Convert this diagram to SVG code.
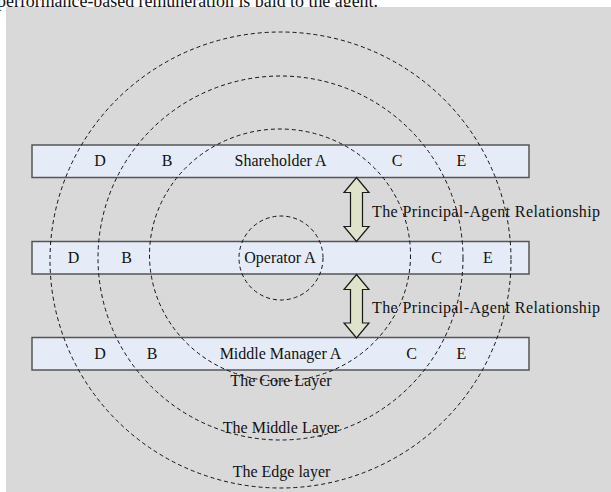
<svg xmlns="http://www.w3.org/2000/svg" width="611" height="492" viewBox="0 0 611 492">
  <style>
    .bar { fill: #e6ecf7; stroke: #555555; stroke-width: 1.5; }
    .layer { fill: none; stroke: #111111; stroke-width: 1; stroke-dasharray: 4 3; }
    .lbl { font-family: "Liberation Serif", "Times New Roman", serif; font-size: 16px; fill: #111111; }
    .mid { text-anchor: middle; }
    .arrow { fill: #dfe3c9; stroke: #1a1a1a; stroke-width: 1.2; stroke-linejoin: miter; }
  </style>

  <!-- caption line running above the figure -->
  <text x="-3" y="7" class="lbl" style="font-size:19px" textLength="381" lengthAdjust="spacingAndGlyphs">performance-based remuneration is paid to the agent.</text>

  <!-- figure background -->
  <rect x="6" y="7" width="605" height="485" fill="#d9d9d9"/>

  <!-- bars -->
  <g id="shareholder">
    <rect class="bar" x="32" y="145" width="497" height="32.5"/>
    <text class="lbl mid" x="100" y="166">D</text>
    <text class="lbl mid" x="167" y="166">B</text>
    <text class="lbl mid" x="280.5" y="166">Shareholder A</text>
    <text class="lbl mid" x="397" y="166">C</text>
    <text class="lbl mid" x="461.5" y="166">E</text>
  </g>

  <g id="operator">
    <rect class="bar" x="32" y="241.5" width="497" height="32.5"/>
    <text class="lbl mid" x="73.5" y="263">D</text>
    <text class="lbl mid" x="126.5" y="263">B</text>
    <text class="lbl mid" x="280" y="263">Operator A</text>
    <text class="lbl mid" x="436.5" y="263">C</text>
    <text class="lbl mid" x="488" y="263">E</text>
  </g>

  <g id="middle-manager">
    <rect class="bar" x="32" y="337.5" width="497" height="32.5"/>
    <text class="lbl mid" x="100" y="358.5">D</text>
    <text class="lbl mid" x="152" y="358.5">B</text>
    <text class="lbl mid" x="280.5" y="358.5">Middle Manager A</text>
    <text class="lbl mid" x="411.5" y="358.5">C</text>
    <text class="lbl mid" x="461.5" y="358.5">E</text>
  </g>

  <!-- concentric layers -->
  <g id="layers">
    <ellipse class="layer" cx="281" cy="258" rx="42" ry="42"/>
    <ellipse class="layer" cx="280" cy="255" rx="130.5" ry="126"/>
    <ellipse class="layer" cx="280.5" cy="258" rx="182.5" ry="182"/>
    <ellipse class="layer" cx="280.5" cy="260" rx="230.5" ry="228"/>
    <text class="lbl mid" x="281" y="386">The Core Layer</text>
    <text class="lbl mid" x="281" y="433">The Middle Layer</text>
    <text class="lbl mid" x="281.5" y="477">The Edge layer</text>
  </g>

  <!-- principal-agent links -->
  <g id="connectors">
    <path class="arrow" d="M356.5,177.5 L369,192.5 L362.5,192.5 L362.5,226.5 L369,226.5 L356.5,241.5 L344,226.5 L350.5,226.5 L350.5,192.5 L344,192.5 Z"/>
    <path class="arrow" d="M356.5,274.5 L369,289.5 L362.5,289.5 L362.5,323 L369,323 L356.5,338 L344,323 L350.5,323 L350.5,289.5 L344,289.5 Z"/>
    <text class="lbl" x="372" y="217" textLength="228">The Principal-Agent Relationship</text>
    <text class="lbl" x="372" y="312.5" textLength="228">The Principal-Agent Relationship</text>
  </g>
</svg>
